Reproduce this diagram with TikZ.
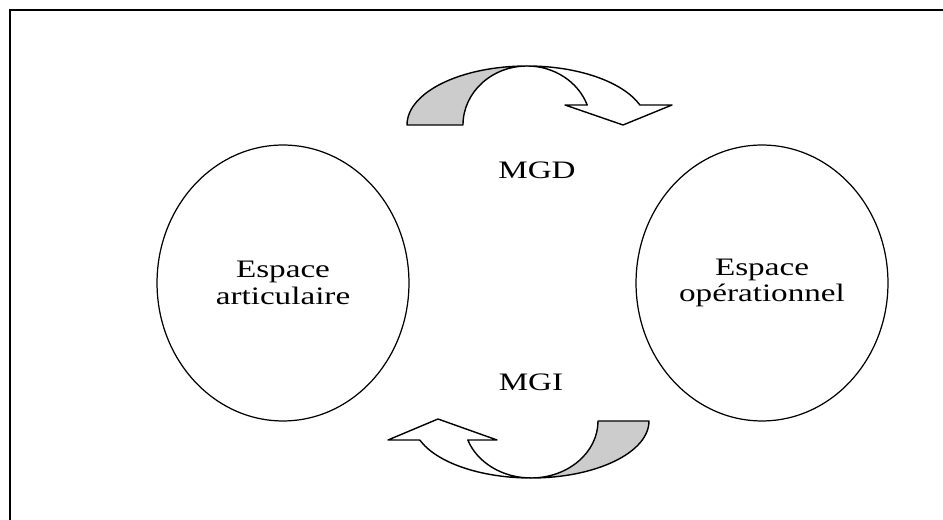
\documentclass[tikz,border=0pt]{standalone}
\usepackage{fontspec}
\setmainfont{Liberation Serif}[FakeStretch=1.32]
\usepackage{tikz}
\usetikzlibrary{shapes.geometric}

\begin{document}
\begin{tikzpicture}[
    x=0.02cm, y=0.02cm,
    font=\fontsize{14.3}{15.2}\selectfont,
    space/.style  = {draw, ellipse, line width=0.7pt, inner sep=0pt,
                     minimum width=5.04cm, minimum height=5.52cm, align=center},
    tag/.style    = {inner sep=1pt},
    back/.style   = {draw, line width=0.8pt, fill=gray!40, line join=round},
    front/.style  = {draw, line width=0.8pt, fill=white, line join=round},
]
\useasboundingbox (0,0) rectangle (943,520);

% ============ frame ============
\draw[line width=1.4pt] (10,0) -- (10,510) -- (943,510);

% ============ the two spaces ============
\node[space] (art) at (283,237) {Espace\\articulaire};
\node[space] (ope) at (762,237) {Espace\\opérationnel};

% ============ labels ============
\node[tag] (mgd) at (537,350) {MGD};
\node[tag] (mgi) at (531,138) {MGI};

% ============ top curved arrow (MGD) ============
\path[back] (407,395) arc[start angle=180, end angle=90, x radius=2.4cm, y radius=1.18cm]
    arc[start angle=90, end angle=180, x radius=1.28cm, y radius=1.18cm] -- cycle;
\path[front] (527,454) arc[start angle=90, end angle=19.8, x radius=2.4cm, y radius=1.18cm]
    -- (672,415) -- (623,395) -- (565,415) -- (587.2,415)
    arc[start angle=19.8, end angle=90, x radius=1.28cm, y radius=1.18cm] -- cycle;

% ============ bottom curved arrow (MGI) ============
\path[back] (531,42) arc[start angle=270, end angle=360, x radius=2.36cm, y radius=1.14cm]
    -- (598,99)
    arc[start angle=0, end angle=-90, x radius=1.34cm, y radius=1.14cm] -- cycle;
\path[front] (531,42) arc[start angle=270, end angle=199.5, x radius=2.36cm, y radius=1.14cm]
    -- (388,80) -- (438,101) -- (497,80) -- (467.8,80)
    arc[start angle=199.5, end angle=270, x radius=1.34cm, y radius=1.14cm] -- cycle;

\end{tikzpicture}
\end{document}
